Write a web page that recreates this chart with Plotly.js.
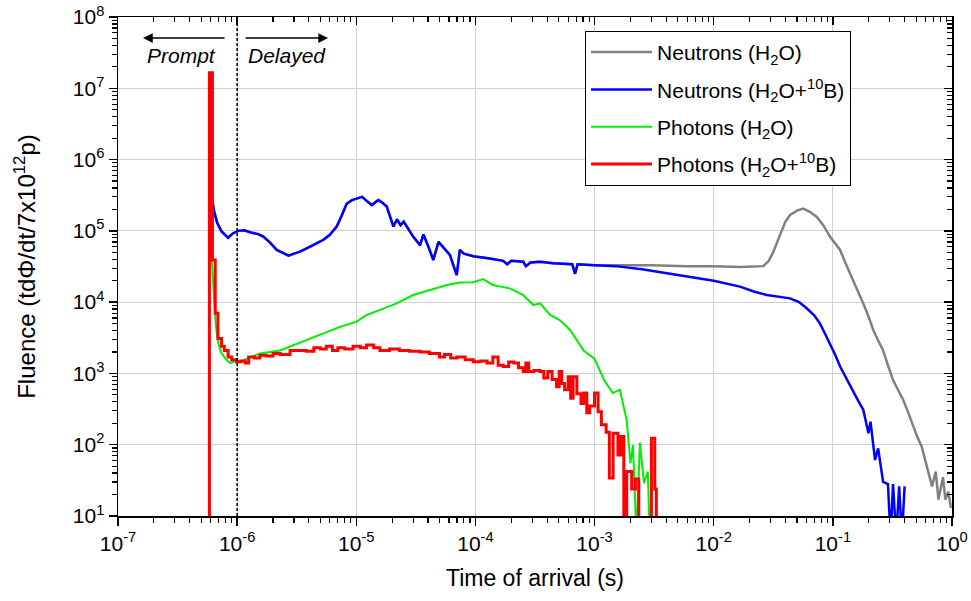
<!DOCTYPE html>
<html>
<head>
<meta charset="utf-8">
<script src="https://cdn.plot.ly/plotly-3.0.1.min.js"></script>
<style>html,body{margin:0;padding:0;background:#fff}#chart{width:971px;height:601px}</style>
</head>
<body>
<div id="chart"></div>
<script>
// ---- Data (time in s, fluence per 7x10^12 p) ----
// Neutrons, shared early part (H2O and H2O+10B overlap until ~1 ms)
const neutronEarlyT = [6.1e-7, 6.4e-7, 6.8e-7, 7.4e-7, 8.4e-7, 9.2e-7, 1.02e-6, 1.15e-6, 1.3e-6, 1.5e-6, 1.66e-6, 1.9e-6, 2.15e-6, 2.45e-6, 2.7e-6, 3.0e-6, 3.37e-6, 4.1e-6, 4.7e-6, 5.3e-6, 6.0e-6, 6.85e-6, 7.5e-6, 8.3e-6, 9.2e-6, 1.04e-5, 1.12e-5, 1.2e-5, 1.35e-5, 1.53e-5, 1.65e-5, 1.8e-5, 2.05e-5, 2.2e-5, 2.35e-5, 2.5e-5, 3.0e-5, 3.43e-5, 3.66e-5, 4.03e-5, 4.43e-5, 4.9e-5, 6.1e-5, 6.97e-5, 7.4e-5, 8.0e-5, 9.6e-5, 1.32e-4, 1.71e-4, 1.85e-4, 2.0e-4, 2.52e-4, 2.65e-4, 2.9e-4, 3.48e-4, 4.5e-4, 6.5e-4, 6.86e-4, 7.2e-4, 1.0e-3];
const neutronEarlyV = [3.1e5, 1.9e5, 1.3e5, 9.8e4, 8.0e4, 9.2e4, 1.0e5, 1.02e5, 9.5e4, 9.0e4, 8.3e4, 6.8e4, 5.4e4, 4.8e4, 4.5e4, 4.8e4, 5.1e4, 6.0e4, 6.8e4, 7.5e4, 8.8e4, 1.15e5, 1.6e5, 2.4e5, 2.7e5, 2.9e5, 3.0e5, 2.7e5, 2.3e5, 2.7e5, 2.5e5, 2.2e5, 1.15e5, 1.45e5, 1.2e5, 1.35e5, 8.3e4, 6.3e4, 8.9e4, 6.0e4, 3.9e4, 7.0e4, 4.6e4, 2.4e4, 5.4e4, 4.8e4, 4.4e4, 4.1e4, 3.8e4, 3.4e4, 3.8e4, 3.7e4, 3.2e4, 3.6e4, 3.7e4, 3.5e4, 3.4e4, 2.5e4, 3.4e4, 3.3e4];

// Neutrons (H2O) after 1 ms
const neutronH2OTailT = [1.5e-3, 3e-3, 6e-3, 1e-2, 1.66e-2, 2.3e-2, 2.61e-2, 2.9e-2, 3.17e-2, 3.45e-2, 3.72e-2, 4.0e-2, 4.37e-2, 5.0e-2, 5.65e-2, 6.4e-2, 7.3e-2, 8.3e-2, 9.46e-2, 1.05e-1, 1.15e-1, 1.3e-1, 1.49e-1, 1.65e-1, 1.8e-1, 2.0e-1, 2.18e-1, 2.4e-1, 2.64e-1, 2.9e-1, 3.2e-1, 3.5e-1, 3.9e-1, 4.3e-1, 4.73e-1, 5.1e-1, 5.57e-1, 6.0e-1, 6.34e-1, 6.8e-1, 7.3e-1, 7.7e-1, 8.4e-1, 8.8e-1, 9.3e-1, 9.8e-1];
const neutronH2OTailV = [3.3e4, 3.3e4, 3.2e4, 3.2e4, 3.1e4, 3.2e4, 3.2e4, 3.8e4, 5.1e4, 7.3e4, 1.03e5, 1.35e5, 1.67e5, 1.92e5, 2.05e5, 1.85e5, 1.58e5, 1.2e5, 8.3e4, 6.5e4, 5.4e4, 3.3e4, 2.0e4, 1.4e4, 9.6e3, 6.2e3, 4.1e3, 2.9e3, 2.1e3, 1.3e3, 810, 600, 425, 280, 180, 130, 94, 60, 40, 26, 42, 17, 35, 17, 22, 13];

// Neutrons (H2O+10B) after 1 ms
const neutronBTailT = [1.5e-3, 2.5e-3, 4.3e-3, 7e-3, 1.0e-2, 1.66e-2, 2.2e-2, 2.79e-2, 3.5e-2, 4.37e-2, 5.2e-2, 6.03e-2, 7.0e-2, 7.8e-2, 8.6e-2, 9.46e-2, 1.05e-1, 1.15e-1, 1.3e-1, 1.49e-1, 1.65e-1, 1.8e-1, 1.99e-1, 2.07e-1, 2.26e-1, 2.4e-1, 2.64e-1, 2.9e-1, 3.05e-1, 3.2e-1, 3.4e-1, 3.6e-1, 3.8e-1, 4.0e-1];
const neutronBTailV = [3.2e4, 2.9e4, 2.5e4, 2.2e4, 2.0e4, 1.65e4, 1.4e4, 1.26e4, 1.2e4, 1.13e4, 1.0e4, 8.2e3, 6.5e3, 5.0e3, 3.6e3, 2.6e3, 1.8e3, 1.25e3, 850, 530, 400, 310, 145, 210, 61, 89, 30, 28, 5, 28, 5, 26, 5, 26];

// Photons (H2O)
const photonH2OT = [5.8e-7, 5.82e-7, 6.15e-7, 6.4e-7, 6.6e-7, 6.9e-7, 7.3e-7, 8.0e-7, 8.7e-7, 1.0e-6, 1.06e-6, 1.3e-6, 1.55e-6, 2.29e-6, 2.96e-6, 3.8e-6, 5.29e-6, 7.3e-6, 1.0e-5, 1.22e-5, 1.58e-5, 2.18e-5, 3.0e-5, 4.2e-5, 5.76e-5, 7.4e-5, 9.6e-5, 1.16e-4, 1.4e-4, 1.94e-4, 2.52e-4, 3.06e-4, 3.48e-4, 4.23e-4, 5.1e-4, 6.2e-4, 8.1e-4, 1.0e-3, 1.2e-3, 1.42e-3, 1.63e-3, 1.86e-3, 2.0e-3, 2.1e-3, 2.25e-3, 2.4e-3, 2.6e-3, 2.8e-3, 2.9e-3];
const photonH2OV = [5, 1.5e7, 3.5e4, 1.0e4, 5.0e3, 2.8e3, 2.0e3, 1.6e3, 1.4e3, 1.5e3, 1.46e3, 1.7e3, 1.9e3, 2.1e3, 2.5e3, 2.9e3, 3.7e3, 4.5e3, 5.3e3, 6.6e3, 7.8e3, 9.6e3, 1.26e4, 1.48e4, 1.74e4, 1.88e4, 1.9e4, 2.1e4, 1.74e4, 1.56e4, 1.26e4, 9.1e3, 9.6e3, 6.6e3, 5.6e3, 4.1e3, 2.1e3, 1.6e3, 810, 530, 590, 220, 55, 99, 5, 107, 29, 42, 5];

// Photons (H2O+10B)
const photonBT = [5.7e-7, 5.85e-7, 6.2e-7, 6.55e-7, 6.9e-7, 7.4e-7, 7.8e-7, 8.4e-7, 9.0e-7, 9.9e-7, 1.08e-6, 1.17e-6, 1.25e-6, 1.4e-6, 1.55e-6, 1.75e-6, 2.0e-6, 2.3e-6, 2.78e-6, 3.3e-6, 3.8e-6, 4.4e-6, 5.0e-6, 5.6e-6, 6.3e-6, 7.0e-6, 8.0e-6, 9.4e-6, 1.08e-5, 1.22e-5, 1.4e-5, 1.58e-5, 1.9e-5, 2.3e-5, 2.8e-5, 3.43e-5, 4.1e-5, 5.0e-5, 5.5e-5, 6.2e-5, 7.0e-5, 8.2e-5, 9.6e-5, 1.1e-4, 1.25e-4, 1.4e-4, 1.55e-4, 1.71e-4, 1.9e-4, 2.1e-4, 2.3e-4, 2.52e-4, 2.65e-4, 2.8e-4, 3.1e-4, 3.48e-4, 3.75e-4, 4.05e-4, 4.4e-4, 4.8e-4, 5.05e-4, 5.3e-4, 5.6e-4, 6.0e-4, 6.3e-4, 6.6e-4, 7.1e-4, 7.7e-4, 8.1e-4, 8.6e-4, 9.1e-4, 1.0e-3, 1.07e-3, 1.14e-3, 1.25e-3, 1.33e-3, 1.43e-3, 1.57e-3, 1.66e-3, 1.76e-3, 1.86e-3, 2.05e-3, 2.2e-3, 2.35e-3, 3.0e-3, 3.2e-3, 3.3e-3];
const photonBV = [5, 1.65e7, 3.9e4, 7.0e3, 3.1e3, 2.4e3, 2.1e3, 1.7e3, 1.55e3, 1.46e3, 1.5e3, 1.4e3, 1.7e3, 1.65e3, 1.8e3, 1.75e3, 1.9e3, 1.85e3, 2.1e3, 2.1e3, 2.05e3, 2.3e3, 2.2e3, 2.4e3, 2.1e3, 2.3e3, 2.2e3, 2.4e3, 2.3e3, 2.5e3, 2.3e3, 2.1e3, 2.2e3, 2.1e3, 2.05e3, 2.0e3, 1.9e3, 1.7e3, 1.85e3, 1.65e3, 1.7e3, 1.55e3, 1.46e3, 1.5e3, 1.4e3, 1.7e3, 1.3e3, 1.25e3, 1.45e3, 1.4e3, 1.2e3, 1.06e3, 1.4e3, 1.06e3, 1.1e3, 1.06e3, 860, 1.06e3, 820, 650, 1.06e3, 720, 590, 900, 450, 900, 520, 380, 530, 280, 350, 530, 290, 190, 150, 34, 145, 72, 130, 5, 42, 24, 33, 5, 123, 24, 5];

// Tick labels
const xTickVals = [1e-7, 1e-6, 1e-5, 1e-4, 1e-3, 1e-2, 1e-1, 1];
const xTickText = ['10<sup>-7</sup>', '10<sup>-6</sup>', '10<sup>-5</sup>', '10<sup>-4</sup>', '10<sup>-3</sup>', '10<sup>-2</sup>', '10<sup>-1</sup>', '10<sup>0</sup>'];
const yTickVals = [1e1, 1e2, 1e3, 1e4, 1e5, 1e6, 1e7, 1e8];
const yTickText = ['10<sup>1</sup>', '10<sup>2</sup>', '10<sup>3</sup>', '10<sup>4</sup>', '10<sup>5</sup>', '10<sup>6</sup>', '10<sup>7</sup>', '10<sup>8</sup>'];
const seriesNames = ['Neutrons (H<sub>2</sub>O)', 'Neutrons (H<sub>2</sub>O+<sup>10</sup>B)', 'Photons (H<sub>2</sub>O)', 'Photons (H<sub>2</sub>O+<sup>10</sup>B)'];

// ---- Build traces ----
const traces = [
  {x: neutronEarlyT.concat(neutronH2OTailT), y: neutronEarlyV.concat(neutronH2OTailV), name: seriesNames[0],
   legendgroup: 'g1', mode: 'lines', line: {color: '#808080', width: 2.5}},
  {x: neutronEarlyT.concat(neutronBTailT), y: neutronEarlyV.concat(neutronBTailV), name: seriesNames[1],
   legendgroup: 'g2', mode: 'lines', line: {color: '#0000ff', width: 2.5}},
  {x: photonH2OT, y: photonH2OV, name: seriesNames[2],
   legendgroup: 'g3', mode: 'lines', line: {color: '#00f000', width: 2}},
  {x: photonBT, y: photonBV, name: seriesNames[3],
   legendgroup: 'g4', mode: 'lines', line: {color: '#ff0000', width: 3, shape: 'hv'}},
  // empty traces that carry the mirrored top/right axes
  {x: [], y: [], xaxis: 'x2', yaxis: 'y', showlegend: false, hoverinfo: 'skip'},
  {x: [], y: [], xaxis: 'x', yaxis: 'y2', showlegend: false, hoverinfo: 'skip'}
];

const FONT = 'Liberation Sans, Arial, sans-serif';
const NB = '\u00A0';

const baseAxis = {
  type: 'log', showline: true, linecolor: 'black', linewidth: 1.5,
  tickmode: 'array', tickcolor: 'black', tickwidth: 1.5, ticklen: 8,
  zeroline: false
};
const minorOut = {ticks: 'outside', ticklen: 5, tickcolor: 'black', tickwidth: 1.2, dtick: 'D1', showgrid: false};
const minorIn = {ticks: 'inside', ticklen: 5, tickcolor: 'black', tickwidth: 1.2, dtick: 'D1', showgrid: false};

const layout = {
  width: 971, height: 601,
  margin: {l: 118, r: 19, t: 17, b: 85},
  paper_bgcolor: 'white', plot_bgcolor: 'white',
  font: {family: FONT, color: 'black'},
  showlegend: true,
  legend: {x: 0.56, y: 0.972, xanchor: 'left', yanchor: 'top', traceorder: 'grouped', tracegroupgap: 7,
           bgcolor: 'white', bordercolor: 'black', borderwidth: 1,
           font: {family: FONT, size: 21, color: 'black'}, itemwidth: 61},
  xaxis: Object.assign({}, baseAxis, {
    range: [-7, 0], tickvals: xTickVals, ticktext: xTickText, ticks: 'outside',
    showgrid: true, gridcolor: '#d0d0d0', gridwidth: 1,
    tickfont: {family: FONT, size: 21},
    minor: minorOut,
    title: {text: 'Time of arrival (s)' + NB.repeat(8), font: {family: FONT, size: 23}, standoff: 16}
  }),
  yaxis: Object.assign({}, baseAxis, {
    range: [1, 8], tickvals: yTickVals, ticktext: yTickText, ticks: 'outside',
    showgrid: true, gridcolor: '#d0d0d0', gridwidth: 1,
    tickfont: {family: FONT, size: 21},
    minor: minorOut,
    title: {text: 'Fluence (td\u03A6/dt/7x10<sup>12</sup>p)' + NB.repeat(8), font: {family: FONT, size: 24}, standoff: 30}
  }),
  xaxis2: Object.assign({}, baseAxis, {
    overlaying: 'x', side: 'top', range: [-7, 0], tickvals: xTickVals, ticks: 'inside',
    showticklabels: false, showgrid: false, minor: minorIn
  }),
  yaxis2: Object.assign({}, baseAxis, {
    overlaying: 'y', side: 'right', range: [1, 8], tickvals: yTickVals, ticks: 'inside',
    showticklabels: false, showgrid: false, minor: minorIn
  }),
  shapes: [
    {type: 'line', xref: 'x', yref: 'paper', x0: 1e-6, x1: 1e-6, y0: 0, y1: 1,
     line: {color: 'black', width: 1.5, dash: '3px,2px'}}
  ],
  annotations: [
    {xref: 'x', yref: 'y', x: -6.463, y: 7.467, text: '<i>Prompt</i>', showarrow: false,
     font: {family: FONT, size: 21, color: 'black'}},
    {xref: 'x', yref: 'y', x: -5.582, y: 7.467, text: '<i>Delayed</i>', showarrow: false,
     font: {family: FONT, size: 21, color: 'black'}},
    {xref: 'x', yref: 'y', x: -6.79, y: 7.705, text: '', showarrow: true, ax: 83, ay: 0,
     arrowhead: 2, arrowsize: 1.3, arrowwidth: 1.5, arrowcolor: 'black'},
    {xref: 'x', yref: 'y', x: -5.237, y: 7.705, text: '', showarrow: true, ax: -84, ay: 0,
     arrowhead: 2, arrowsize: 1.3, arrowwidth: 1.5, arrowcolor: 'black'}
  ]
};

Plotly.newPlot('chart', traces, layout, {displayModeBar: false, staticPlot: true});
</script>
</body>
</html>
